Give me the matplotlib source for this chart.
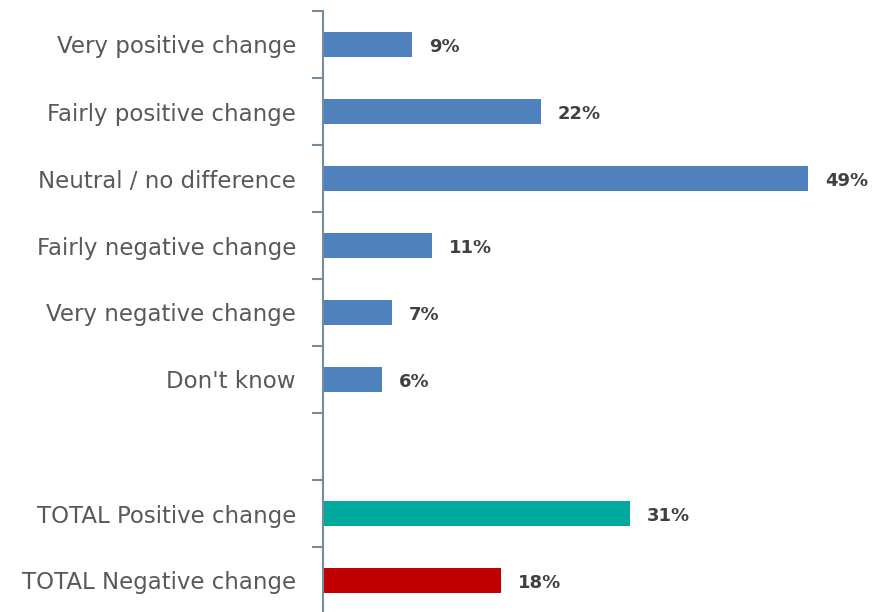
import matplotlib
matplotlib.use("Agg")
import matplotlib.pyplot as plt

categories = [
    "Very positive change",
    "Fairly positive change",
    "Neutral / no difference",
    "Fairly negative change",
    "Very negative change",
    "Don't know",
    "",
    "TOTAL Positive change",
    "TOTAL Negative change",
]
values = [9, 22, 49, 11, 7, 6, None, 31, 18]
colors = ["#4F81BD"] * 6 + [None, "#00A99D", "#C00000"]

W, H = 872, 612
fig = plt.figure(figsize=(W / 100, H / 100), dpi=100)
ax = fig.add_axes([323 / W, (H - 614) / H, (W - 323) / W, 603 / H])

for i, (v, c) in enumerate(zip(values, colors)):
    if v is None:
        continue
    ax.barh(i, v, height=0.36, color=c, edgecolor="none")
    ax.text(v + 1.7, i + 0.03, f"{v}%", va="center", ha="left",
            fontsize=13, fontweight="bold", color="#404040",
            family="DejaVu Sans")

ax.set_ylim(len(categories) - 0.5, -0.5)
ax.set_xlim(0, (W - 323) / 9.9)

ax.set_yticks([i + 0.5 for i in range(-1, len(categories))])
ax.set_yticklabels([])
ax.tick_params(axis="y", length=8, width=1.5, color="#758CA0")
ax.set_yticks(range(len(categories)), minor=True)
ax.set_yticklabels(categories, minor=True)
ax.tick_params(axis="y", which="minor", length=0, pad=19.5,
               labelsize=16.5, labelcolor="#595959")
for lbl in ax.get_yticklabels(minor=True):
    lbl.set_family("DejaVu Sans")

ax.set_xticks([])
for s in ["top", "right", "bottom"]:
    ax.spines[s].set_visible(False)
ax.spines["left"].set_color("#758CA0")
ax.spines["left"].set_linewidth(1.5)

fig.savefig("out.png", dpi=100)
